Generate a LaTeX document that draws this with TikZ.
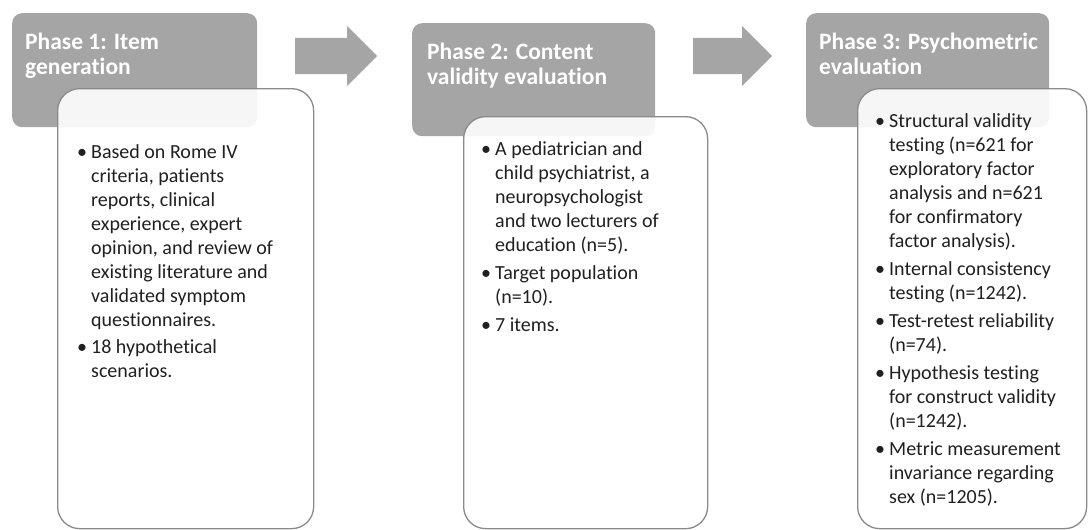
\documentclass[tikz,border=0pt]{standalone}
\usepackage{fontspec}
\setmainfont{Carlito}[Ligatures=NoCommon]
\usetikzlibrary{shapes.arrows}

\definecolor{phasegray}{HTML}{A5A5A5}
\definecolor{framegray}{HTML}{8A8A8A}
\definecolor{txtgray}{HTML}{202020}

\newcommand{\itembullet}{\llap{\textbullet\hspace{4pt}}}

\tikzset{
  phasebox/.style={fill=phasegray, draw=none, rounded corners=10pt, anchor=north west, inner sep=0pt},
  infobox/.style={fill=white, fill opacity=0.9, draw=framegray, line width=1.3pt, rounded corners=22pt, anchor=north west, inner sep=0pt},
  phasetitle/.style={anchor=north west, inner sep=0pt, text=white, align=left, font=\fontsize{23.5}{24.5}\selectfont\bfseries},
  infotext/.style={anchor=north west, inner sep=0pt, text=txtgray, align=left, font=\fontsize{20}{24}\selectfont},
  flowarrow/.style={single arrow, fill=phasegray, draw=none, inner sep=0pt, text height=18pt, text depth=18pt, single arrow head extend=12pt, single arrow tip angle=90, anchor=west}
}

\begin{document}
\begin{tikzpicture}[x=1pt, y=-1pt]
\useasboundingbox (0,0) rectangle (1088,530);
% phase headers
\node[phasebox, minimum width=245pt, minimum height=114pt] (head1) at (12,13) {};
\node[phasebox, minimum width=243pt, minimum height=113pt] (head2) at (412,23) {};
\node[phasebox, minimum width=243pt, minimum height=114pt] (head3) at (806,13) {};
\node[phasetitle] (title1) at (25,33) {Phase 1: Item\\generation};
\node[phasetitle] (title2) at (427,43) {Phase 2: Content\\validity evaluation};
\node[phasetitle] (title3) at (819,33) {Phase 3: Psychometric\\evaluation};
% block arrows
\node[flowarrow, minimum height=82pt] (arr1) at (295,56) {};
\node[flowarrow, minimum height=79pt] (arr2) at (693,56) {};
% detail boxes
\node[infobox, minimum width=256pt, minimum height=440pt] (box1) at (57,88) {};
\node[infobox, minimum width=244pt, minimum height=412pt] (box2) at (463,116) {};
\node[infobox, minimum width=229pt, minimum height=440pt] (box3) at (857,88) {};
\node[infotext] (list1) at (91,144) {\itembullet Based on Rome IV\\criteria, patients\\reports, clinical\\experience, expert\\opinion, and review of\\existing literature and\\validated symptom\\questionnaires.\\[3pt]
  \itembullet 18 hypothetical\\scenarios.};
\node[infotext] (list2) at (495,141) {\itembullet A pediatrician and\\child psychiatrist, a\\neuropsychologist\\and two lecturers of\\education (n=5).\\[4pt]
  \itembullet Target population\\(n=10).\\[4pt]
  \itembullet 7 items.};
\node[infotext] (list3) at (889,113) {\itembullet Structural validity\\testing (n=621 for\\exploratory factor\\analysis and n=621\\for confirmatory\\factor analysis).\\[4pt]
  \itembullet Internal consistency\\testing (n=1242).\\[4pt]
  \itembullet Test-retest reliability\\(n=74).\\[4pt]
  \itembullet Hypothesis testing\\for construct validity\\(n=1242).\\[4pt]
  \itembullet Metric measurement\\invariance regarding\\sex (n=1205).};
\end{tikzpicture}
\end{document}
